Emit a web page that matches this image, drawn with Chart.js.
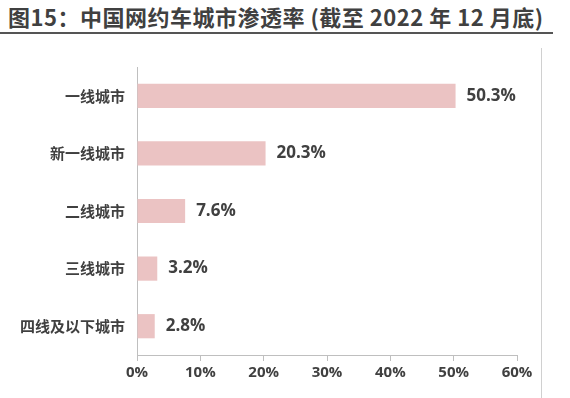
<!DOCTYPE html>
<html>
<head>
<meta charset="utf-8">
<script src="https://cdn.jsdelivr.net/npm/chart.js@4"></script>
<style>
  body { margin: 0; background: #fff; }
  #wrap { position: relative; width: 570px; height: 398px; overflow: hidden; }
  #title {
    position: absolute; left: 8px; top: 0px; line-height: 26px; letter-spacing: 0.5px;
    font: bold 22px "Noto Sans CJK SC", "Open Sans", sans-serif;
    color: #404040; white-space: nowrap;
  }
  #rule { position: absolute; left: 0; top: 32px; width: 553px; height: 2px; background: #555; }
  #edge { position: absolute; left: 541px; top: 48px; width: 1px; height: 350px; background: #d0d0d0; }
  canvas { position: absolute; left: 0; top: 0; }
</style>
</head>
<body>
<div id="wrap">
  <div id="title">图15：中国网约车城市渗透率 (截至 2022 年 12 月底)</div>
  <div id="rule"></div>
  <div id="edge"></div>
  <canvas id="c" width="570" height="398"></canvas>
</div>
<script>
var categories = ['一线城市', '新一线城市', '二线城市', '三线城市', '四线及以下城市'];
var values = [50.3, 20.3, 7.6, 3.2, 2.8];
var xTicks = [0, 10, 20, 30, 40, 50, 60];

var textColor = '#404040';
var fontFamily = '"Open Sans", "Noto Sans CJK SC", sans-serif';

// value labels at the end of each bar
var barLabels = {
    id: 'barLabels',
    afterDatasetsDraw: function (chart) {
        var ctx = chart.ctx;
        var meta = chart.getDatasetMeta(0);
        ctx.save();
        ctx.font = 'bold 17px ' + fontFamily;
        ctx.fillStyle = textColor;
        ctx.textAlign = 'left';
        ctx.textBaseline = 'middle';
        meta.data.forEach(function (bar, i) {
            ctx.fillText(values[i].toFixed(1) + '%', bar.x + 11, bar.y);
        });
        ctx.restore();
    }
};

new Chart('c', {
    type: 'bar',
    data: {
        labels: categories,
        datasets: [{
            data: values,
            backgroundColor: '#ebc3c3',
            borderWidth: 0,
            barPercentage: 0.42,
            categoryPercentage: 1
        }]
    },
    options: {
        indexAxis: 'y',
        responsive: false,
        animation: false,
        layout: { padding: { top: 67, right: 53, bottom: 0, left: 0 } },
        plugins: {
            legend: { display: false },
            tooltip: { enabled: false }
        },
        scales: {
            x: {
                min: 0,
                max: 60,
                afterBuildTicks: function (scale) {
                    scale.ticks = xTicks.map(function (v) { return { value: v }; });
                },
                afterFit: function (scale) { scale.height = 43; },
                grid: {
                    drawOnChartArea: false,
                    drawTicks: true,
                    tickLength: 6,
                    color: '#bfbfbf'
                },
                border: { color: '#bfbfbf', width: 1 },
                ticks: {
                    color: textColor,
                    padding: 3,
                    font: { family: fontFamily, size: 15, weight: 'bold' },
                    callback: function (v) { return v + '%'; }
                }
            },
            y: {
                afterFit: function (scale) { scale.width = 137; },
                grid: { display: false },
                border: { color: '#bfbfbf', width: 1 },
                ticks: {
                    color: textColor,
                    padding: 4,
                    font: { family: '"Noto Sans CJK SC", sans-serif', size: 15, weight: 'bold' }
                }
            }
        }
    },
    plugins: [barLabels]
});
</script>
</body>
</html>
